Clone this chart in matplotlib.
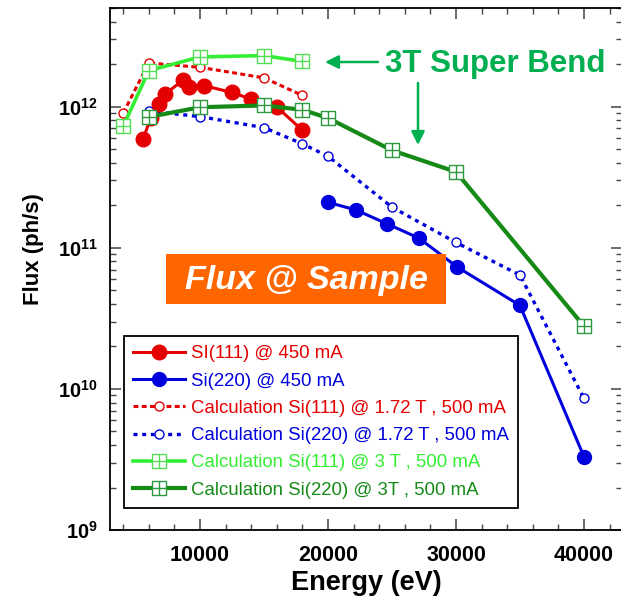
import numpy as np
import matplotlib
matplotlib.use("Agg")
import matplotlib.pyplot as plt
from matplotlib.path import Path
from matplotlib.patches import Rectangle
from matplotlib.ticker import FixedLocator, LogLocator, NullFormatter, FuncFormatter

plt.rcParams['font.family'] = ['Liberation Sans', 'DejaVu Sans']
plt.rcParams['mathtext.fontset'] = 'custom'
plt.rcParams['mathtext.rm'] = 'Liberation Sans:bold'
plt.rcParams['mathtext.bf'] = 'Liberation Sans:bold'

# ---- data -------------------------------------------------------------
# measured Si(111), 450 mA
e_si111_meas = [5550, 6150, 6800, 7250, 8700, 9150, 10300, 12500, 14000, 16000, 18000]
f_si111_meas = [5.9e11, 8.3e11, 1.05e12, 1.22e12, 1.55e12, 1.38e12, 1.41e12,
                1.26e12, 1.13e12, 9.95e11, 6.8e11]

# measured Si(220), 450 mA
e_si220_meas = [20000, 22200, 24600, 27100, 30100, 35000, 40000]
f_si220_meas = [2.1e11, 1.85e11, 1.48e11, 1.17e11, 7.3e10, 3.9e10, 3.3e9]

# calculation Si(111) @ 1.72 T, 500 mA
e_si111_172 = [4000, 6000, 10000, 15000, 18000]
f_si111_172 = [9.0e11, 2.04e12, 1.90e12, 1.60e12, 1.20e12]

# calculation Si(220) @ 1.72 T, 500 mA
e_si220_172 = [6000, 10000, 15000, 18000, 20000, 25000, 30000, 35000, 40000]
f_si220_172 = [9.3e11, 8.5e11, 7.1e11, 5.45e11, 4.45e11, 1.94e11, 1.09e11, 6.4e10, 8.55e9]

# calculation Si(111) @ 3 T, 500 mA
e_si111_3t = [4000, 6000, 10000, 15000, 18000]
f_si111_3t = [7.25e11, 1.80e12, 2.25e12, 2.30e12, 2.09e12]

# calculation Si(220) @ 3 T, 500 mA
e_si220_3t = [6000, 10000, 15000, 18000, 20000, 25000, 30000, 40000]
f_si220_3t = [8.45e11, 9.9e11, 1.02e12, 9.5e11, 8.3e11, 4.9e11, 3.45e11, 2.78e10]

labels = [
    "SI(111) @ 450 mA",
    "Si(220) @ 450 mA",
    "Calculation Si(111) @ 1.72 T , 500 mA",
    "Calculation Si(220) @ 1.72 T , 500 mA",
    "Calculation Si(111) @ 3 T , 500 mA",
    "Calculation Si(220) @ 3T , 500 mA",
]

x_major = [10000, 20000, 30000, 40000]
y_major = [1e9, 1e10, 1e11, 1e12]

# ---- styling ----------------------------------------------------------
RED = '#e40000'
BLUE = '#0000dd'
LIME = '#33ee33'
LIME_EDGE = '#55dd55'
DKGREEN = '#168a16'
DKGREEN_EDGE = '#2e9a40'
ANNOT_GREEN = '#00b050'

# square with an inner cross
sq_verts = [(-1, -1), (1, -1), (1, 1), (-1, 1), (-1, -1),
            (0, -1), (0, 1), (-1, 0), (1, 0)]
sq_codes = [Path.MOVETO, Path.LINETO, Path.LINETO, Path.LINETO, Path.CLOSEPOLY,
            Path.MOVETO, Path.LINETO, Path.MOVETO, Path.LINETO]
box_cross = Path(sq_verts, sq_codes)

W, H = 621, 600
fig = plt.figure(figsize=(W / 100, H / 100), dpi=100)
ax = fig.add_axes([110.4 / W, 70 / H, 512 / W, 522 / H])

ax.set_yscale('log')
ax.set_xlim(3000, 43000)
ax.set_ylim(1e9, 5e12)

h2, = ax.plot(e_si111_172, f_si111_172, color=RED, lw=2.2, dashes=(1.6, 1.1),
              marker='o', ms=6.5, mfc='white', mec=RED, mew=1.0, zorder=3,
              label=labels[2])
h3, = ax.plot(e_si220_172, f_si220_172, color=BLUE, lw=2.4, dashes=(1.2, 1.4),
              marker='o', ms=6.5, mfc='white', mec=BLUE, mew=1.0, zorder=3,
              label=labels[3])
h0, = ax.plot(e_si111_meas, f_si111_meas, color=RED, lw=2.2,
              marker='o', ms=10.5, mfc=RED, mec=RED, zorder=4, label=labels[0])
h1, = ax.plot(e_si220_meas, f_si220_meas, color=BLUE, lw=2.2,
              marker='o', ms=10, mfc=BLUE, mec=BLUE, zorder=4, label=labels[1])
h4, = ax.plot(e_si111_3t, f_si111_3t, color=LIME, lw=2.6,
              marker=box_cross, ms=9.5, mfc='white', mec=LIME_EDGE, mew=1.0,
              zorder=5, label=labels[4])
h5, = ax.plot(e_si220_3t, f_si220_3t, color=DKGREEN, lw=3.0,
              marker=box_cross, ms=9.5, mfc='white', mec=DKGREEN_EDGE, mew=1.0,
              zorder=5, label=labels[5])

# ---- axes & ticks -----------------------------------------------------
for s in ax.spines.values():
    s.set_linewidth(1.3)
    s.set_color('black')

ax.xaxis.set_major_locator(FixedLocator(x_major))
ax.xaxis.set_minor_locator(FixedLocator(np.arange(4000, 43000, 2000)))
ax.xaxis.set_major_formatter(FuncFormatter(lambda v, p: f"{int(v)}"))
ax.yaxis.set_major_locator(FixedLocator(y_major))
ax.yaxis.set_minor_locator(LogLocator(base=10, subs=np.arange(2, 10)))
ax.yaxis.set_minor_formatter(NullFormatter())
ax.yaxis.set_major_formatter(
    FuncFormatter(lambda v, p: r"$\mathbf{10^{%d}}$" % round(np.log10(v))))

ax.tick_params(which='both', direction='in', top=True, right=True, color='#444444')
ax.tick_params(which='major', length=8, width=1.1)
ax.tick_params(which='minor', length=4, width=1.0)
ax.tick_params(axis='x', labelsize=15.5, pad=11)
ax.tick_params(axis='y', labelsize=14.5, pad=9)
for t in ax.get_xticklabels():
    t.set_fontweight('bold')

fig.text(366 / W, 1 - 583 / H, "Energy (eV)", ha='center', va='center',
         fontsize=19.5, fontweight='bold')
fig.text(33 / W, 1 - 249 / H, "Flux (ph/s)", ha='center', va='center',
         rotation=90, fontsize=16, fontweight='bold')

# ---- annotations ------------------------------------------------------
fig.text(385 / W, 1 - 64 / H, "3T Super Bend", ha='left', va='center',
         fontsize=22.5, fontweight='bold', color=ANNOT_GREEN)
arrow_kw = dict(arrowstyle='-|>', color=ANNOT_GREEN, lw=1.8,
                mutation_scale=20, shrinkA=0, shrinkB=0)
ax.annotate("", xy=(325 / W, 1 - 62 / H), xytext=(378 / W, 1 - 62 / H),
            xycoords='figure fraction', textcoords='figure fraction',
            arrowprops=arrow_kw)
ax.annotate("", xy=(418 / W, 1 - 145 / H), xytext=(418 / W, 1 - 83 / H),
            xycoords='figure fraction', textcoords='figure fraction',
            arrowprops=arrow_kw)

fig.patches.append(Rectangle((166 / W, 1 - 304 / H), 280 / W, 50 / H,
                             transform=fig.transFigure, facecolor='#ff6600',
                             edgecolor='none', zorder=6))
fig.text(306 / W, 1 - 280 / H, "Flux @ Sample", ha='center', va='center',
         fontsize=24.5, fontweight='bold', style='italic', color='white', zorder=7)

# ---- legend -----------------------------------------------------------
leg = ax.legend(handles=[h0, h1, h2, h3, h4, h5], loc='upper left',
                bbox_to_anchor=(124 / W, 1 - 336 / H),
                bbox_transform=fig.transFigure, borderaxespad=0,
                fontsize=13.4, handlelength=2.8, handletextpad=0.28,
                borderpad=0.5, labelspacing=0.55, fancybox=False,
                framealpha=1, edgecolor='black', labelcolor='linecolor')
leg.get_frame().set_linewidth(1.3)
leg.set_zorder(8)

fig.savefig("out.png", dpi=100)
